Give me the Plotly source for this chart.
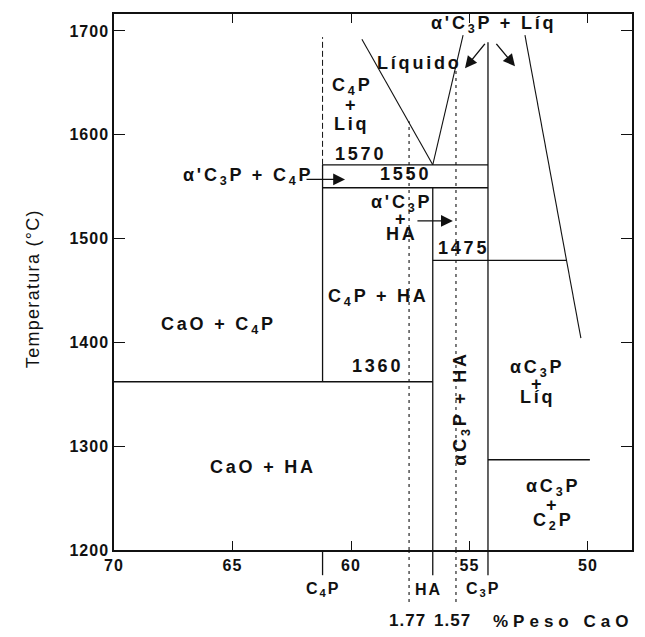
import plotly.graph_objects as go

# ---------------- data ----------------
# compositions, % weight CaO
x_C4P = 61.2
x_HA = 56.55
x_C3P = 54.22

# liquidus curves
liq_left_x = [59.54, 56.55]
liq_left_T = [1692, 1571]
liq_mid_x = [56.55, 55.27]
liq_mid_T = [1571, 1696]
liq_right_x = [52.66, 50.30]
liq_right_T = [1696, 1404]

# isotherms
isotherm_T = [1571, 1549, 1479, 1362, 1287]
isotherm_x0 = [61.2, 61.2, 56.55, 70.0, 54.22]
isotherm_x1 = [54.22, 54.22, 50.89, 56.55, 49.92]

# solid vertical phase boundaries
solid_vert_x = [61.2, 56.55, 54.22]
solid_vert_T0 = [1362, 1200, 1200]
solid_vert_T1 = [1571, 1549, 1689]

# dashed upper part of C4P line
c4p_dash_T = [1571, 1694]

# dotted Ca/P ratio lines
ratio_x = [57.55, 55.57]
ratio_top_T = [1613, 1667]
ratio_labels = ["1.77", "1.57"]
ratio_label_x = [57.62, 55.72]

# compounds marked under the axis
compound_x = [61.2, 56.55, 54.22]
compound_labels = ["C<sub>4</sub>P", "HA", "C<sub>3</sub>P"]
compound_label_x = [61.2, 56.72, 54.45]

x_ticks = [70, 65, 60, 55, 50]
y_ticks = [1200, 1300, 1400, 1500, 1600, 1700]

# region labels: text, x, y
region_text = [
    "C<sub>4</sub>P", "+", "Liq",
    "1570", "1550",
    "α'C<sub>3</sub>P", "+", "HA",
    "1475",
    "C<sub>4</sub>P + HA",
    "CaO + C<sub>4</sub>P",
    "1360",
    "CaO + HA",
    "αC<sub>3</sub>P", "+", "Líq",
    "αC<sub>3</sub>P", "+", "C<sub>2</sub>P",
    "Líquido",
    "α'C<sub>3</sub>P + Líq",
    "α'C<sub>3</sub>P + C<sub>4</sub>P",
]
region_x = [
    59.96, 59.96, 59.96,
    59.58, 57.68,
    57.85, 57.85, 57.85,
    55.27,
    58.86,
    65.57,
    58.90,
    63.71,
    52.15, 52.15, 52.15,
    51.48, 51.48, 51.48,
    57.09,
    53.97,
    64.35,
]
region_y = [
    1646, 1629, 1610,
    1581, 1562,
    1534, 1519, 1504,
    1491,
    1443,
    1416,
    1377,
    1280,
    1375, 1360, 1347,
    1260, 1243, 1227,
    1669,
    1706,
    1560,
]

# rotated label
rot_text = "αC<sub>3</sub>P + HA"
rot_x = 55.32
rot_y = 1336

# arrows: tail -> head
arrow_tail_x = [61.94, 57.26, 54.30, 53.92]
arrow_tail_y = [1557, 1517, 1689, 1689]
arrow_head_x = [60.25, 55.70, 55.19, 53.08]
arrow_head_y = [1557, 1517, 1664, 1666]

# ---------------- figure ----------------
FONT = "Liberation Sans"
BLACK = "#111111"


def sp(t, px):
    return f'<span style="letter-spacing:{px}px">{t}</span>'


fig = go.Figure()

for xs, ts in [(liq_left_x, liq_left_T), (liq_mid_x, liq_mid_T), (liq_right_x, liq_right_T)]:
    fig.add_trace(go.Scatter(x=xs, y=ts, mode="lines", line=dict(color=BLACK, width=1.1)))

for T, a, b in zip(isotherm_T, isotherm_x0, isotherm_x1):
    fig.add_trace(go.Scatter(x=[a, b], y=[T, T], mode="lines", line=dict(color=BLACK, width=1.4)))

for x, t0, t1 in zip(solid_vert_x, solid_vert_T0, solid_vert_T1):
    fig.add_trace(go.Scatter(x=[x, x], y=[t0, t1], mode="lines", line=dict(color=BLACK, width=1.3)))

fig.add_trace(go.Scatter(x=[x_C4P, x_C4P], y=c4p_dash_T, mode="lines",
                         line=dict(color=BLACK, width=1.0, dash="6px,3px")))

for x, t in zip(ratio_x, ratio_top_T):
    fig.add_trace(go.Scatter(x=[x, x], y=[1200, t], mode="lines",
                             line=dict(color=BLACK, width=1.1, dash="3px,4px")))

shapes = []
# extensions below the axis (paper y)
for x in compound_x:
    shapes.append(dict(type="line", xref="x", yref="paper", x0=x, x1=x, y0=0, y1=-0.047,
                       line=dict(color=BLACK, width=1.3)))
for x in ratio_x:
    shapes.append(dict(type="line", xref="x", yref="paper", x0=x, x1=x, y0=0, y1=-0.102,
                       line=dict(color=BLACK, width=1.1, dash="3px,4px")))

annotations = []
for t, x, y in zip(region_text, region_x, region_y):
    annotations.append(dict(x=x, y=y, xref="x", yref="y", text=sp(t, 2.8), showarrow=False,
                            xanchor="center", yanchor="middle",
                            font=dict(family=FONT, size=18, color=BLACK, weight="bold")))

annotations.append(dict(x=rot_x, y=rot_y, xref="x", yref="y", text=sp(rot_text, 2.8), textangle=-90,
                        showarrow=False, xanchor="center", yanchor="middle",
                        font=dict(family=FONT, size=18, color=BLACK, weight="bold")))

for tx, ty, hx, hy in zip(arrow_tail_x, arrow_tail_y, arrow_head_x, arrow_head_y):
    annotations.append(dict(x=hx, y=hy, ax=tx, ay=ty, xref="x", yref="y", axref="x", ayref="y",
                            text="", showarrow=True, arrowhead=2, arrowsize=1.7, arrowwidth=1.4,
                            arrowcolor=BLACK, standoff=0, startstandoff=0))

for t, x in zip(compound_labels, compound_label_x):
    annotations.append(dict(x=x, y=-0.0743, xref="x", yref="paper", text=sp(t, 2), showarrow=False,
                            xanchor="center", yanchor="middle",
                            font=dict(family=FONT, size=16, color=BLACK, weight="bold")))

for t, x in zip(ratio_labels, ratio_label_x):
    annotations.append(dict(x=x, y=-0.132, xref="x", yref="paper", text=sp(t, 1), showarrow=False,
                            xanchor="center", yanchor="middle",
                            font=dict(family=FONT, size=17, color=BLACK, weight="bold")))

annotations.append(dict(x=51.05, y=-0.134, xref="x", yref="paper", text=sp("%Peso CaO", 5),
                        showarrow=False, xanchor="center", yanchor="middle",
                        font=dict(family=FONT, size=17, color=BLACK, weight="bold")))

annotations.append(dict(x=-0.156, y=0.487, xref="paper", yref="paper", text=sp("Temperatura (°C)", 1.3),
                        textangle=-90, showarrow=False, xanchor="center", yanchor="middle",
                        font=dict(family=FONT, size=18, color=BLACK)))

# page body has an 8px margin: shrink the figure so the plot lands where the reference has it
fig.update_layout(
    width=637, height=629, autosize=False,
    margin=dict(l=106, r=13, t=4, b=87),
    paper_bgcolor="white", plot_bgcolor="white",
    showlegend=False,
    shapes=shapes, annotations=annotations,
    xaxis=dict(range=[70, 48.143], tickvals=x_ticks, ticktext=[sp(str(v), 1) for v in x_ticks],
               ticks="inside", ticklen=9, tickwidth=1.3, tickcolor=BLACK,
               showline=True, linecolor=BLACK, linewidth=1.5, mirror="ticks",
               showgrid=False, zeroline=False,
               tickfont=dict(family=FONT, size=16, color=BLACK, weight="bold")),
    yaxis=dict(range=[1200, 1716.3], tickvals=y_ticks, ticktext=[sp(str(v), 1) for v in y_ticks],
               ticks="inside", ticklen=11, tickwidth=1.3, tickcolor=BLACK,
               showline=True, linecolor=BLACK, linewidth=1.5, mirror="ticks",
               showgrid=False, zeroline=False,
               tickfont=dict(family=FONT, size=16, color=BLACK, weight="bold")),
)

fig.write_html("out.html")
